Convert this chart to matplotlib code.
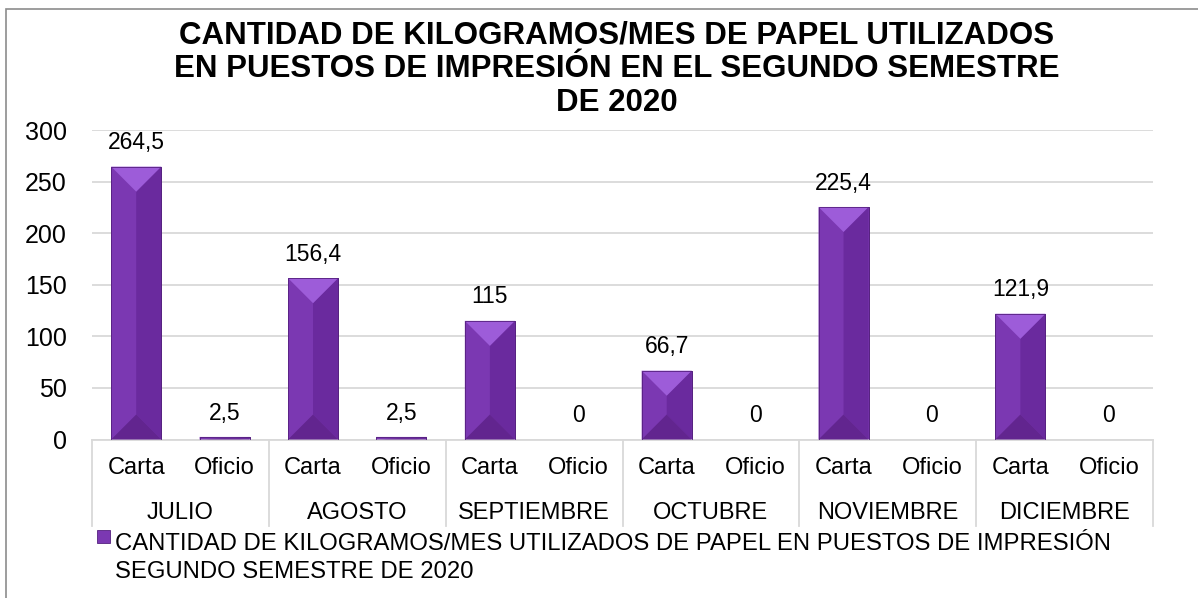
import matplotlib.pyplot as plt
from matplotlib.patches import Polygon, Rectangle
from matplotlib import transforms
import numpy as np

plt.rcParams['font.family'] = ['Liberation Sans', 'DejaVu Sans']

meses = ['JULIO', 'AGOSTO', 'SEPTIEMBRE', 'OCTUBRE', 'NOVIEMBRE', 'DICIEMBRE']
tipos = ['Carta', 'Oficio']
carta = [264.5, 156.4, 115, 66.7, 225.4, 121.9]
oficio = [2.5, 2.5, 0, 0, 0, 0]
etiquetas_carta = ['264,5', '156,4', '115', '66,7', '225,4', '121,9']
etiquetas_oficio = ['2,5', '2,5', '0', '0', '0', '0']

titulo = ('CANTIDAD DE KILOGRAMOS/MES DE PAPEL UTILIZADOS\n'
          'EN PUESTOS DE IMPRESIÓN EN EL SEGUNDO SEMESTRE\nDE 2020')
leyenda = ('CANTIDAD DE KILOGRAMOS/MES UTILIZADOS DE PAPEL EN PUESTOS DE IMPRESIÓN\n'
           'SEGUNDO SEMESTRE DE 2020')

# colores del bisel
c_izq = '#7b38b2'
c_der = '#6a2a9e'
c_sup = '#9d5cd9'
c_inf = '#62258f'
c_borde = '#55207f'

W, H = 1198, 598
fig = plt.figure(figsize=(W / 100, H / 100), dpi=100)

# area de trazado en pixeles
ax_l, ax_r, ax_t, ax_b = 92, 1153, 130, 439.5
ax = fig.add_axes([ax_l / W, (H - ax_b) / H, (ax_r - ax_l) / W, (ax_b - ax_t) / H])

valores = []
etiquetas = []
for i in range(len(meses)):
    valores += [carta[i], oficio[i]]
    etiquetas += [etiquetas_carta[i], etiquetas_oficio[i]]
x = np.arange(len(valores))

ax.set_xlim(-0.5, len(valores) - 0.5)
ax.set_ylim(0, 300)
ancho = 0.566

px_x = (ax_r - ax_l) / len(valores)   # pixeles por unidad x
px_y = (ax_b - ax_t) / 300            # pixeles por unidad y

bars = ax.bar(x, valores, width=ancho, color=c_izq, edgecolor=c_borde, linewidth=0.6, zorder=2)
for b in bars:
    h = b.get_height()
    if h <= 0:
        continue
    x0 = b.get_x()
    x1 = x0 + b.get_width()
    c = (x0 + x1) / 2
    d_px = min(b.get_width() / 2 * px_x, h * px_y / 2)
    d = d_px / px_y
    polys = [
        ([(x0, 0), (c, d), (c, h - d), (x0, h)], c_izq),
        ([(x1, 0), (c, d), (c, h - d), (x1, h)], c_der),
        ([(x0, h), (x1, h), (c, h - d)], c_sup),
        ([(x0, 0), (x1, 0), (c, d)], c_inf),
    ]
    for pts, col in polys:
        ax.add_patch(Polygon(pts, closed=True, facecolor=col, edgecolor='none', zorder=3))
    ax.add_patch(Rectangle((x0, 0), x1 - x0, h, facecolor='none', edgecolor=c_borde,
                           linewidth=0.6, zorder=4))

for xi, v, t in zip(x, valores, etiquetas):
    ax.annotate(t, (xi, v), xytext=(0, 12.5), textcoords='offset points',
                ha='center', va='baseline', fontsize=16.5, color='black')

# ejes y rejilla
ax.set_yticks(range(0, 301, 50))
ax.grid(axis='y', color='#d9d9d9', linewidth=1.3, zorder=0)
ax.set_axisbelow(True)
for s in ['top', 'right', 'left']:
    ax.spines[s].set_visible(False)
ax.spines['bottom'].set_color('#d9d9d9')
ax.spines['bottom'].set_linewidth(1.3)
ax.tick_params(axis='y', length=0, pad=18, labelsize=18)
ax.set_xticks([])

# etiquetas de categorias en dos niveles
trans = transforms.blended_transform_factory(ax.transData, ax.transAxes)
h_ax = ax_b - ax_t
for i, m in enumerate(meses):
    for j, t in enumerate(tipos):
        ax.text(2 * i + j, -28.5 / h_ax, t, transform=trans, ha='center', va='center', fontsize=17)
    ax.text(2 * i + 0.5, -73.5 / h_ax, m, transform=trans, ha='center', va='center', fontsize=17)
for k in range(len(meses) + 1):
    xs = 2 * k - 0.5
    ax.plot([xs, xs], [0, -86 / h_ax], transform=trans, color='#d9d9d9', lw=1.3, clip_on=False)

# titulo
fig.text(617 / W, 1 - 69 / H, titulo, ha='center', va='center', fontsize=22.5,
         fontweight='bold', linespacing=1.16)

# leyenda
fig.patches.append(Rectangle((97 / W, 1 - 543 / H), 13 / W, 13 / H, transform=fig.transFigure,
                             facecolor=c_izq, edgecolor=c_borde, lw=0.6))
fig.text(115 / W, 1 - 558 / H, leyenda, ha='left', va='center', fontsize=17.2, linespacing=1.37)

# borde del grafico
fig.patches.append(Rectangle((6 / W, -0.05), 1.1, 1 - 9 / H + 0.05, transform=fig.transFigure,
                             facecolor='none', edgecolor='#8c8c8c', lw=1.2))

fig.savefig('out.png', dpi=100)
